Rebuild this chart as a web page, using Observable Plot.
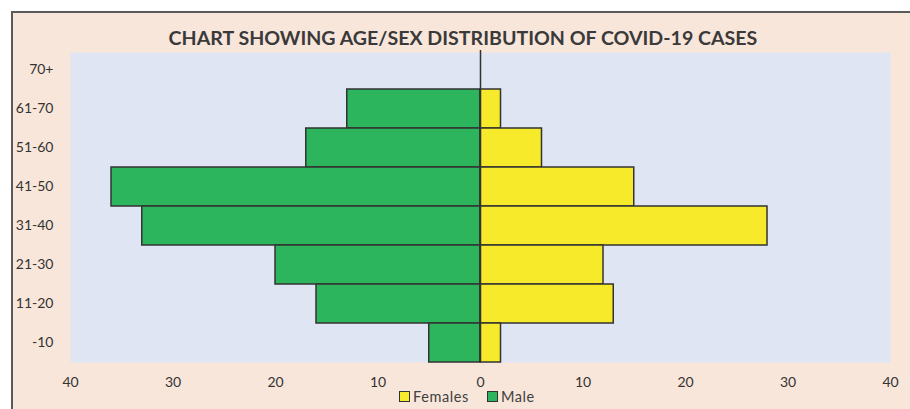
<!DOCTYPE html>
<html>
<head>
<meta charset="utf-8">
<script src="https://cdn.jsdelivr.net/npm/d3@7"></script>
<script src="https://cdn.jsdelivr.net/npm/@observablehq/plot@0.6"></script>
<style>
  html, body { margin: 0; padding: 0; background: #ffffff; width: 910px; height: 409px; overflow: hidden; }
  #frame { position: absolute; left: 11px; top: 11px; width: 920px; height: 420px; background: #f9e6da; border-left: 2px solid #5a5a5a; border-top: 2px solid #5a5a5a; box-sizing: border-box; }
  #chart { position: absolute; left: 0; top: 0; }
  #title { position: absolute; left: 0; width: 926px; top: 26px; text-align: center; font-family: Lato, sans-serif; font-weight: bold; font-size: 19.6px; color: #3a3a3a; }
  #legend { position: absolute; top: 388px; left: 399px; font-family: Lato, sans-serif; font-size: 14.5px; letter-spacing: 0.6px; color: #404040; display: flex; align-items: center; }
  .sw { width: 9px; height: 9px; border: 1.5px solid #333; display: inline-block; margin-right: 3px; }
</style>
</head>
<body>
<div id="frame"></div>
<div id="chart"></div>
<div id="title">CHART SHOWING AGE/SEX DISTRIBUTION OF COVID-19 CASES</div>
<div id="legend"></div>
<script>
const ageGroups = ["70+", "61-70", "51-60", "41-50", "31-40", "21-30", "11-20", "-10"];
const male = [0, 13, 17, 36, 33, 20, 16, 5];
const females = [0, 2, 6, 15, 28, 12, 13, 2];
const xTicks = [-40, -30, -20, -10, 0, 10, 20, 30, 40];
const seriesNames = ["Females", "Male"];
const seriesColors = ["#f6ea2a", "#2db55d"];

const rows = ageGroups.flatMap((g, i) => [
  {age: g, sex: "Male", value: -male[i]},
  {age: g, sex: "Females", value: females[i]}
]);

const plot = Plot.plot({
  width: 910,
  height: 409,
  marginLeft: 70,
  marginRight: 20,
  marginTop: 50,
  marginBottom: 47,
  style: {background: "transparent", fontFamily: "Lato, sans-serif", fontSize: "14px", color: "#333"},
  x: {domain: [-40, 40], ticks: xTicks, tickFormat: d => Math.abs(d), tickSize: 0, tickPadding: 15, label: null},
  y: {domain: ageGroups, padding: 0, tickSize: 0, tickPadding: 17, label: null},
  color: {domain: seriesNames, range: seriesColors},
  marks: [
    Plot.frame({fill: "#dfe5f2", stroke: null, insetTop: 2}),
    Plot.barX(rows, {y: "age", x: "value", fill: "sex", stroke: "#333", strokeWidth: 1.5}),
    Plot.ruleX([0], {stroke: "#333", strokeWidth: 1.5})
  ]
});
document.getElementById("chart").appendChild(plot);

const legend = document.getElementById("legend");
seriesNames.forEach((n, i) => {
  const sw = document.createElement("span");
  sw.className = "sw";
  sw.style.background = seriesColors[i];
  const t = document.createElement("span");
  t.textContent = n;
  t.style.marginRight = i === 0 ? "18px" : "0";
  legend.appendChild(sw);
  legend.appendChild(t);
});
</script>
</body>
</html>
